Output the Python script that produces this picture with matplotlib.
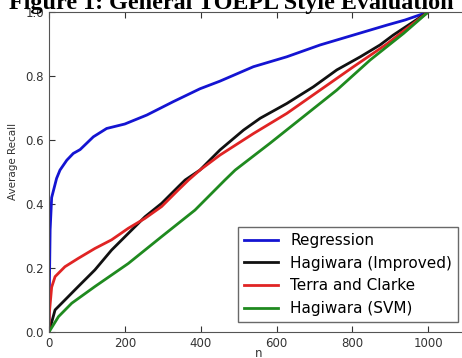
import matplotlib
matplotlib.use("Agg")
import matplotlib.pyplot as plt

# values
n_regression = [0, 1, 3, 7, 20, 29, 47, 64, 82, 117, 152, 200, 258, 328, 398, 451, 539, 627, 715, 803, 891, 939, 1000]
regression = [0.0, 0.14, 0.32, 0.42, 0.48, 0.506, 0.537, 0.558, 0.570, 0.610, 0.636, 0.650, 0.678, 0.720, 0.760,
              0.784, 0.829, 0.860, 0.897, 0.928, 0.959, 0.975, 1.0]

n_improved = [0, 16, 42, 77, 121, 165, 209, 253, 297, 341, 359, 398, 451, 513, 557, 627, 697, 759, 821, 873, 908, 1000]
improved = [0.0, 0.069, 0.100, 0.142, 0.194, 0.256, 0.308, 0.360, 0.402, 0.454, 0.475, 0.506, 0.569, 0.631, 0.668,
            0.714, 0.766, 0.819, 0.860, 0.897, 0.928, 1.0]

n_terra = [0, 1, 7, 16, 42, 77, 121, 165, 209, 253, 297, 341, 368, 398, 451, 539, 627, 715, 803, 891, 944, 1000]
terra = [0.0, 0.06, 0.14, 0.173, 0.204, 0.230, 0.261, 0.288, 0.324, 0.355, 0.392, 0.444, 0.475, 0.506, 0.553,
         0.620, 0.683, 0.756, 0.829, 0.900, 0.949, 1.0]

n_svm = [0, 25, 60, 121, 209, 297, 385, 464, 491, 583, 671, 759, 847, 935, 1000]
svm = [0.0, 0.048, 0.090, 0.142, 0.214, 0.298, 0.381, 0.475, 0.506, 0.590, 0.673, 0.756, 0.850, 0.933, 1.0]

labels = ["Regression", "Hagiwara (Improved)", "Terra and Clarke", "Hagiwara (SVM)"]
colors = ["#1414d2", "#111111", "#e02424", "#1f8a1f"]

fig = plt.figure(figsize=(4.62, 3.58), dpi=100)
ax = fig.add_axes([49 / 462, 26 / 358, 419 / 462, 320 / 358])

ax.plot(n_regression, regression, color=colors[0], lw=2, label=labels[0])
ax.plot(n_improved, improved, color=colors[1], lw=2, label=labels[1])
ax.plot(n_terra, terra, color=colors[2], lw=2, label=labels[2])
ax.plot(n_svm, svm, color=colors[3], lw=2, label=labels[3])

ax.set_xlim(0, 1105)
ax.set_ylim(0, 1.0)
ax.set_xticks([0, 200, 400, 600, 800, 1000])
ax.set_yticks([0.0, 0.2, 0.4, 0.6, 0.8, 1.0])
ax.set_yticklabels(["0.0", "0.2", "0.4", "0.6", "0.8", "1.0"])
ax.tick_params(direction="in", top=True, right=True, labelsize=8.5, length=4, colors="#333333")
for s in ax.spines.values():
    s.set_color("#555555")

ax.set_xlabel("n", fontsize=8.5, labelpad=-2, color="#333333")
ax.set_ylabel("Average Recall", fontsize=7.5, color="#333333")
ax.yaxis.set_label_coords(-31 / 419, 0.534)

leg = ax.legend(loc="lower right", fontsize=11, frameon=True, fancybox=False,
                borderaxespad=0.65, handlelength=2.2, labelspacing=0.5)
leg.get_frame().set_edgecolor("#444444")

fig.text(0.5, 349 / 358, "Figure 1: General TOEPL Style Evaluation", ha="center", va="baseline",
         fontsize=17.4, fontweight="bold", family="Liberation Serif")

fig.savefig("out.png", dpi=100)
